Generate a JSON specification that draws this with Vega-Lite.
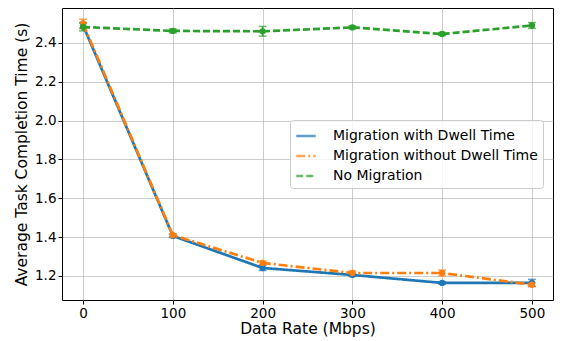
{
  "$schema": "https://vega.github.io/schema/vega-lite/v6.json",
  "width": 491,
  "height": 292,
  "autosize": "none",
  "padding": {"left": 62, "top": 8, "right": 10, "bottom": 41},
  "background": "white",
  "config": {
    "font": "DejaVu Sans",
    "view": {"stroke": "black", "strokeWidth": 1},
    "axis": {
      "gridColor": "#b0b0b0", "gridWidth": 0.8, "gridOpacity": 0.8,
      "domain": false, "tickColor": "black", "tickSize": 4,
      "labelFontSize": 13.5, "labelColor": "black", "titleFontSize": 15.5,
      "titleFontWeight": "normal", "titleColor": "black"
    }
  },
  "data": {
    "values": [
      {"rate": 0, "value": 2.49, "lo": 2.475, "hi": 2.505, "series": "Migration with Dwell Time"},
      {"rate": 100, "value": 1.406, "lo": 1.398, "hi": 1.414, "series": "Migration with Dwell Time"},
      {"rate": 200, "value": 1.241, "lo": 1.228, "hi": 1.254, "series": "Migration with Dwell Time"},
      {"rate": 300, "value": 1.205, "lo": 1.197, "hi": 1.213, "series": "Migration with Dwell Time"},
      {"rate": 400, "value": 1.164, "lo": 1.158, "hi": 1.170, "series": "Migration with Dwell Time"},
      {"rate": 500, "value": 1.164, "lo": 1.146, "hi": 1.182, "series": "Migration with Dwell Time"},
      {"rate": 0, "value": 2.50, "lo": 2.475, "hi": 2.522, "series": "Migration without Dwell Time"},
      {"rate": 100, "value": 1.41, "lo": 1.402, "hi": 1.418, "series": "Migration without Dwell Time"},
      {"rate": 200, "value": 1.267, "lo": 1.258, "hi": 1.276, "series": "Migration without Dwell Time"},
      {"rate": 300, "value": 1.215, "lo": 1.205, "hi": 1.225, "series": "Migration without Dwell Time"},
      {"rate": 400, "value": 1.215, "lo": 1.200, "hi": 1.230, "series": "Migration without Dwell Time"},
      {"rate": 500, "value": 1.155, "lo": 1.145, "hi": 1.165, "series": "Migration without Dwell Time"},
      {"rate": 0, "value": 2.482, "lo": 2.462, "hi": 2.502, "series": "No Migration"},
      {"rate": 100, "value": 2.462, "lo": 2.452, "hi": 2.472, "series": "No Migration"},
      {"rate": 200, "value": 2.46, "lo": 2.435, "hi": 2.485, "series": "No Migration"},
      {"rate": 300, "value": 2.48, "lo": 2.472, "hi": 2.488, "series": "No Migration"},
      {"rate": 400, "value": 2.446, "lo": 2.438, "hi": 2.454, "series": "No Migration"},
      {"rate": 500, "value": 2.49, "lo": 2.475, "hi": 2.505, "series": "No Migration"}
    ]
  },
  "encoding": {
    "x": {"field": "rate", "type": "quantitative", "title": "Data Rate (Mbps)",
      "scale": {"domain": [-23.5, 523.5], "nice": false, "zero": false},
      "axis": {"values": [0, 100, 200, 300, 400, 500], "titlePadding": 2}},
    "color": {"field": "series", "type": "nominal",
      "scale": {"domain": ["Migration with Dwell Time", "Migration without Dwell Time", "No Migration"],
        "range": ["#1f77b4", "#ff7f0e", "#2ca02c"]},
      "legend": {"title": null, "orient": "none", "legendX": 228, "legendY": 112,
        "symbolType": "stroke", "symbolSize": 380, "symbolStrokeWidth": 2.5,
        "labelFontSize": 14, "labelColor": "black", "labelLimit": 0, "rowPadding": 2,
        "fillColor": "rgba(255,255,255,0.8)", "strokeColor": "#cccccc", "padding": 5,
        "cornerRadius": 3, "labelOffset": 16}}
  },
  "layer": [
    {
      "mark": {"type": "errorbar", "ticks": {"size": 8, "thickness": 1.5}, "thickness": 1.5},
      "encoding": {
        "y": {"field": "lo", "type": "quantitative", "title": "Average Task Completion Time (s)",
          "scale": {"domain": [1.076, 2.58], "nice": false, "zero": false},
          "axis": {"values": [1.2, 1.4, 1.6, 1.8, 2.0, 2.2, 2.4], "format": ".1f", "titlePadding": 5}},
        "y2": {"field": "hi"}
      }
    },
    {
      "mark": {"type": "line", "strokeWidth": 2.7, "point": {"filled": true, "size": 40}},
      "encoding": {
        "y": {"field": "value", "type": "quantitative"},
        "strokeDash": {"field": "series", "type": "nominal",
          "scale": {"domain": ["Migration with Dwell Time", "Migration without Dwell Time", "No Migration"],
            "range": [[1, 0], [9, 3, 2, 3], [7, 3]]}}
      }
    }
  ]
}
